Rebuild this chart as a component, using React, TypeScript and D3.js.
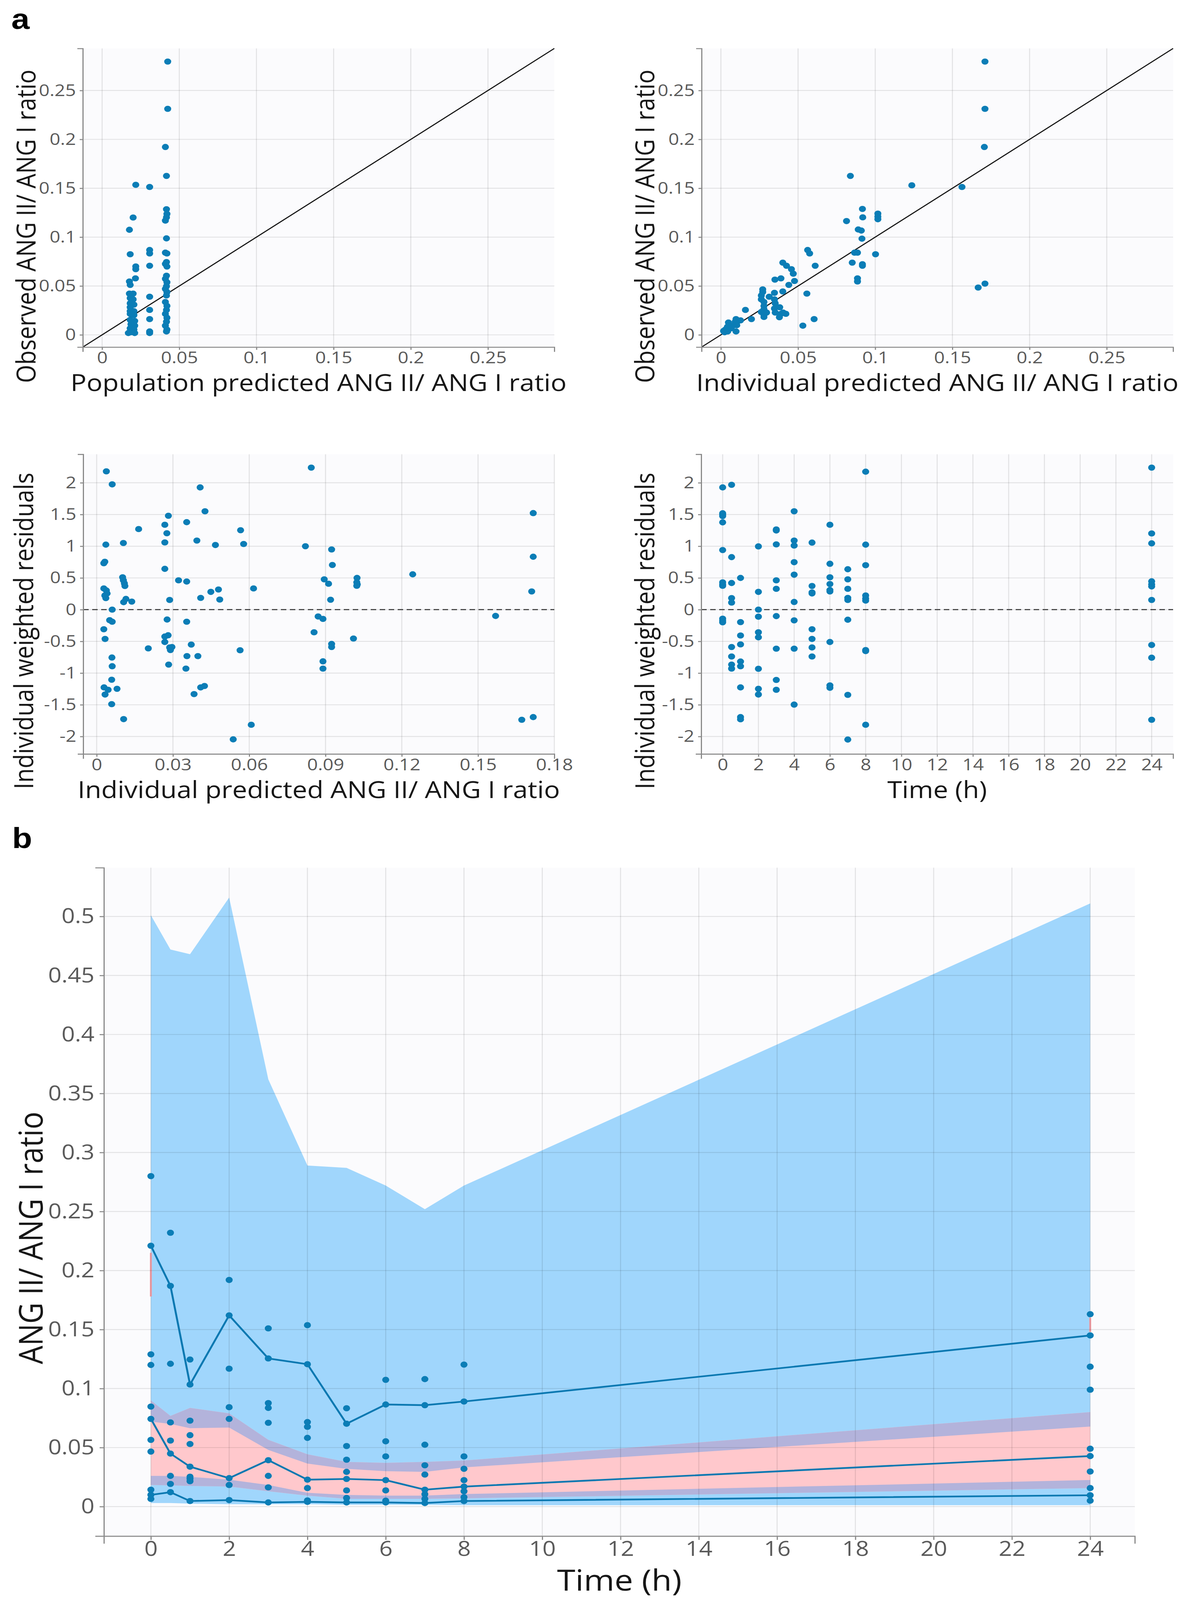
import { useEffect, useRef, useState } from 'react'
import * as d3 from 'd3'

const W = 3036
const H = 4656
const FONT = '"Open Sans", "Noto Sans", sans-serif'
const DOT = '#0b7db6'

// ---- panel a: observed vs population predicted
const predObs: [number, number][] = [
  [0.0218, 0.1535], [0.0201, 0.12], [0.0177, 0.1075], [0.0182, 0.0825], [0.0218, 0.07], [0.0218, 0.0672],
  [0.0216, 0.0578], [0.0177, 0.0546], [0.0182, 0.0511], [0.0177, 0.0422], [0.0201, 0.0422], [0.0182, 0.0376],
  [0.0201, 0.0363], [0.0182, 0.0323], [0.0206, 0.0309], [0.0182, 0.0282], [0.0182, 0.0242], [0.0206, 0.0242],
  [0.0182, 0.0215], [0.0206, 0.0202], [0.0182, 0.0153], [0.0211, 0.0142], [0.0187, 0.0108], [0.0211, 0.0094],
  [0.0182, 0.0067], [0.0206, 0.0054], [0.0187, 0.0027], [0.0211, 0.0019], [0.017, 0.0019],
  [0.0308, 0.1513], [0.0308, 0.0868], [0.0308, 0.0833], [0.0308, 0.0707], [0.0308, 0.039], [0.0308, 0.0255],
  [0.0308, 0.0161], [0.0308, 0.0035], [0.0308, 0.0019],
  [0.0425, 0.2796], [0.0425, 0.2312], [0.041, 0.1922], [0.0417, 0.1626], [0.0417, 0.1285], [0.042, 0.1237],
  [0.0417, 0.1202], [0.041, 0.1169], [0.0417, 0.0987], [0.041, 0.0841], [0.042, 0.0833], [0.0417, 0.0745],
  [0.041, 0.0726], [0.042, 0.0699], [0.0417, 0.0605], [0.041, 0.0573], [0.042, 0.0538], [0.0417, 0.0497],
  [0.041, 0.047], [0.042, 0.0438], [0.0417, 0.0403], [0.041, 0.0336], [0.042, 0.0296], [0.0417, 0.0255],
  [0.041, 0.0215], [0.042, 0.0175], [0.0417, 0.0134], [0.041, 0.0094], [0.042, 0.0054], [0.0417, 0.0035],
]

// ---- observed vs individual predicted
const ipredObs: [number, number][] = [
  [0.1711, 0.2796], [0.1711, 0.2312], [0.1707, 0.1922], [0.0839, 0.1626], [0.1237, 0.153], [0.1562, 0.1513],
  [0.0917, 0.1288], [0.0814, 0.1164], [0.0919, 0.1202], [0.1017, 0.124], [0.1017, 0.121], [0.1017, 0.1183],
  [0.089, 0.1078], [0.091, 0.1067], [0.0914, 0.0984], [0.0866, 0.0841], [0.0885, 0.0841], [0.1002, 0.0825],
  [0.0851, 0.0739], [0.0917, 0.0723], [0.0917, 0.0707], [0.0885, 0.0578], [0.0885, 0.0546], [0.0562, 0.0868],
  [0.0575, 0.0833], [0.0611, 0.0707], [0.0401, 0.0739], [0.0425, 0.0707], [0.0457, 0.0672], [0.035, 0.0565],
  [0.0389, 0.0578], [0.0469, 0.0626], [0.0477, 0.0551], [0.044, 0.0511], [0.0557, 0.0422], [0.0401, 0.0444],
  [0.0347, 0.043], [0.0313, 0.039], [0.0271, 0.0465], [0.0271, 0.0438], [0.0262, 0.0403], [0.0262, 0.0363],
  [0.0279, 0.0336], [0.0279, 0.0296], [0.0279, 0.0261], [0.0262, 0.0234], [0.0279, 0.0215], [0.0296, 0.0228],
  [0.0279, 0.0202], [0.0279, 0.0183], [0.0347, 0.0363], [0.0352, 0.0323], [0.0347, 0.0269], [0.0352, 0.0228],
  [0.0381, 0.0282], [0.0389, 0.0215], [0.0403, 0.0228], [0.0421, 0.0215], [0.0379, 0.018], [0.0604, 0.0161],
  [0.0531, 0.0094], [0.0198, 0.0161], [0.0159, 0.0255], [0.0127, 0.0148], [0.0098, 0.0161], [0.0093, 0.0134],
  [0.0103, 0.0099], [0.0078, 0.0094], [0.0066, 0.0067], [0.0049, 0.0126], [0.0042, 0.0081], [0.0029, 0.0054],
  [0.0024, 0.0027], [0.0017, 0.004], [0.0044, 0.0035], [0.0098, 0.0035], [0.1667, 0.0484], [0.1711, 0.0524],
]

// ---- IWRES vs individual predicted
const ipredIwres: [number, number][] = [
  [0.0038, 2.18], [0.0061, 1.975], [0.0165, 1.27], [0.0036, 1.025], [0.0105, 1.05], [0.0028, 0.732],
  [0.0032, 0.755], [0.0268, 1.338], [0.0282, 1.48], [0.0276, 1.204], [0.0268, 1.06], [0.0354, 1.379],
  [0.0407, 1.927], [0.0426, 1.551], [0.0394, 1.089], [0.0467, 1.019], [0.0566, 1.252], [0.0578, 1.035],
  [0.0268, 0.643], [0.0322, 0.462], [0.0354, 0.443], [0.0102, 0.51], [0.0105, 0.462], [0.0109, 0.414],
  [0.0111, 0.373], [0.0028, 0.334], [0.0038, 0.303], [0.0041, 0.255], [0.0032, 0.223], [0.0036, 0.182],
  [0.0115, 0.169], [0.0106, 0.118], [0.0138, 0.127], [0.0287, 0.153], [0.0409, 0.185], [0.0449, 0.28],
  [0.0479, 0.318], [0.0484, 0.159], [0.0617, 0.334], [0.0061, 0], [0.0051, -0.166], [0.0061, -0.191],
  [0.0028, -0.309], [0.0033, -0.462], [0.0277, -0.156], [0.0354, -0.191], [0.0268, -0.424], [0.0281, -0.404],
  [0.0268, -0.51], [0.0287, -0.596], [0.0296, -0.589], [0.029, -0.637], [0.0203, -0.611], [0.0372, -0.551],
  [0.0355, -0.732], [0.0398, -0.732], [0.0564, -0.64], [0.006, -0.755], [0.0061, -0.892], [0.0283, -0.866],
  [0.0351, -0.93], [0.0059, -1.105], [0.0029, -1.226], [0.0045, -1.264], [0.008, -1.248], [0.0033, -1.338],
  [0.0383, -1.331], [0.0409, -1.226], [0.0424, -1.204], [0.0059, -1.49], [0.0106, -1.726], [0.0537, -2.045],
  [0.0608, -1.815], [0.0844, 2.239], [0.0821, 1.0], [0.0924, 0.949], [0.0927, 0.704], [0.1024, 0.5],
  [0.1023, 0.43], [0.1025, 0.398], [0.1023, 0.376], [0.0895, 0.478], [0.0912, 0.408], [0.092, 0.156],
  [0.1243, 0.557], [0.0871, -0.108], [0.089, -0.146], [0.0855, -0.357], [0.101, -0.455], [0.0924, -0.541],
  [0.0924, -0.589], [0.089, -0.815], [0.089, -0.93], [0.1569, -0.099], [0.1717, 1.522], [0.1717, 0.834],
  [0.1711, 0.287], [0.1672, -1.736], [0.1717, -1.694],
]

// ---- IWRES vs time (h)
const sampleTimes = [0, 0.5, 1, 2, 3, 4, 5, 6, 7, 8, 24]
const iwresByTime: number[][] = [
  [1.927, 1.519, 1.497, 1.475, 1.376, 0.939, 0.43, 0.398, 0.376, -0.143, -0.175, -0.2],
  [1.968, 0.828, 0.42, 0.182, 0.111, -0.589, -0.739, -0.866, -0.93],
  [0.5, -0.197, -0.408, -0.548, -0.818, -0.892, -1.226, -1.694, -1.729],
  [0.997, 0.28, 0, -0.111, -0.357, -0.436, -0.933, -1.248, -1.338],
  [1.264, 1.248, 1.029, 0.462, 0.328, -0.102, -0.615, -1.108, -1.264],
  [1.551, 1.089, 1.01, 0.748, 0.551, 0.121, -0.169, -0.615, -1.497],
  [1.057, 0.373, 0.271, 0.255, -0.309, -0.462, -0.596, -0.739],
  [1.338, 0.723, 0.51, 0.404, 0.309, 0.287, -0.51, -1.194, -1.232],
  [0.637, 0.478, 0.328, 0.185, 0.153, -0.159, -1.344, -2.048],
  [2.175, 1.025, 0.701, 0.223, 0.175, 0.143, -0.637, -0.653, -1.815],
  [2.239, 1.201, 1.045, 0.446, 0.398, 0.366, 0.153, -0.557, -0.758, -1.736],
]

// ---- panel b: VPC (prediction intervals + empirical percentiles)
const pi90Hi = [0.501, 0.472, 0.468, 0.516, 0.362, 0.289, 0.287, 0.272, 0.252, 0.272, 0.511]
const pi90Lo = [0.072, 0.07, 0.0664, 0.067, 0.048, 0.0364, 0.032, 0.03, 0.0294, 0.0332, 0.0678]
const pi50Hi = [0.09, 0.0768, 0.0836, 0.079, 0.0565, 0.0443, 0.0378, 0.037, 0.0378, 0.039, 0.08]
const pi50Lo = [0.0183, 0.018, 0.0175, 0.017, 0.013, 0.0093, 0.0066, 0.0066, 0.0066, 0.007, 0.0157]
const pi10Hi = [0.026, 0.026, 0.0252, 0.0228, 0.0183, 0.0117, 0.0099, 0.0093, 0.0093, 0.0106, 0.0225]
const pi10Lo = [0.003, 0.003, 0.0025, 0.002, 0.002, 0.002, 0.0015, 0.0015, 0.0015, 0.0012, 0.0012]
const emp90 = [0.221, 0.187, 0.1034, 0.162, 0.1255, 0.1206, 0.0702, 0.0865, 0.0859, 0.089, 0.145]
const emp50 = [0.0743, 0.0449, 0.0338, 0.0241, 0.0393, 0.0228, 0.0234, 0.0224, 0.0143, 0.0169, 0.0428]
const emp10 = [0.0099, 0.0122, 0.0047, 0.0055, 0.0035, 0.004, 0.0035, 0.0035, 0.003, 0.0047, 0.0096]
const vpcObs: number[][] = [
  [0.28, 0.129, 0.12, 0.0847, 0.0565, 0.0466, 0.0143, 0.0065],
  [0.232, 0.121, 0.0713, 0.0559, 0.026, 0.0192],
  [0.1246, 0.0728, 0.0605, 0.053, 0.0253, 0.0236, 0.0215],
  [0.192, 0.1168, 0.0842, 0.0743, 0.0183],
  [0.151, 0.0877, 0.0836, 0.071, 0.026, 0.0163],
  [0.1537, 0.0716, 0.0676, 0.0582, 0.0157, 0.0052],
  [0.0833, 0.0513, 0.0397, 0.0294, 0.0137, 0.0073],
  [0.1074, 0.0553, 0.0425, 0.0137, 0.005],
  [0.108, 0.0524, 0.035, 0.0271, 0.0105, 0.0065],
  [0.1203, 0.0425, 0.032, 0.0224, 0.013, 0.0079],
  [0.163, 0.1185, 0.099, 0.049, 0.0297, 0.0157, 0.005],
]
// thin red outlier marks at the first and last sampling time
const outlierTimes = [0, 24]
const outlierLo = [0.178, 0.148]
const outlierHi = [0.215, 0.16]

const ratioTicks = [0, 0.05, 0.1, 0.15, 0.2, 0.25]
const iwresTicks = [-2, -1.5, -1, -0.5, 0, 0.5, 1, 1.5, 2]
const ipredTicks = [0, 0.03, 0.06, 0.09, 0.12, 0.15, 0.18]
const timeTicks = d3.range(0, 25, 2)
const vpcTicks = d3.range(0, 0.501, 0.05)

const fmt = (d: d3.NumberValue) => String(+(+d).toFixed(3))

type Box = { left: number; right: number; top: number; bottom: number }
interface PanelOpts {
  box: Box
  xDomain: [number, number]
  yDomain: [number, number]
  xTicks: number[]
  yTicks: number[]
  xTitle: string
  yTitle: string
  tickFont: number
  titleFont: number
  inner: number
  outer: number
  xPad: number
  xTitleY: number
  yTitleX: number
  yTitleShift: number
}

function makePanel(svg: d3.Selection<SVGSVGElement, unknown, null, undefined>, o: PanelOpts) {
  const { box } = o
  const x = d3.scaleLinear().domain(o.xDomain).range([box.left, box.right])
  const y = d3.scaleLinear().domain(o.yDomain).range([box.bottom, box.top])
  const root = svg.append('g')

  root.append('rect')
    .attr('x', box.left).attr('y', box.top)
    .attr('width', box.right - box.left).attr('height', box.bottom - box.top)
    .attr('fill', '#fbfbfd')

  const band = root.append('g')
  const grid = root.append('g').attr('stroke', 'rgba(0,0,0,0.1)').attr('stroke-width', 2.5)
  o.xTicks.forEach((t) => {
    grid.append('line').attr('x1', x(t)).attr('x2', x(t)).attr('y1', box.top).attr('y2', box.bottom)
  })
  o.yTicks.forEach((t) => {
    grid.append('line').attr('x1', box.left).attr('x2', box.right).attr('y1', y(t)).attr('y2', y(t))
  })
  const marks = root.append('g')

  const styleAxis = (g: d3.Selection<SVGGElement, unknown, null, undefined>) => {
    g.attr('font-size', o.tickFont).attr('font-family', FONT)
    g.select('.domain').attr('stroke', '#8a8a8a').attr('stroke-width', 3)
    g.selectAll('.tick line').attr('stroke', '#8a8a8a').attr('stroke-width', 3)
    g.selectAll('.tick text').attr('fill', '#5a5a5a')
  }

  root.append('g')
    .attr('transform', `translate(0,${box.bottom})`)
    .call(d3.axisBottom(x).tickValues(o.xTicks).tickFormat(fmt).tickSizeInner(o.inner).tickSizeOuter(o.outer).tickPadding(o.xPad))
    .call(styleAxis)

  root.append('g')
    .attr('transform', `translate(${box.left},0)`)
    .call(d3.axisLeft(y).tickValues(o.yTicks).tickFormat(fmt).tickSizeInner(o.inner).tickSizeOuter(o.outer).tickPadding(o.inner * 1.2))
    .call(styleAxis)

  root.append('text')
    .attr('x', (box.left + box.right) / 2)
    .attr('y', box.bottom + o.xTitleY)
    .attr('text-anchor', 'middle')
    .attr('font-family', FONT)
    .attr('font-size', o.titleFont)
    .attr('fill', '#161616')
    .text(o.xTitle)

  root.append('text')
    .attr('transform', `translate(${o.yTitleX},${(box.top + box.bottom) / 2 + o.yTitleShift}) rotate(-90)`)
    .attr('text-anchor', 'middle')
    .attr('font-family', FONT)
    .attr('font-size', o.titleFont)
    .attr('fill', '#161616')
    .text(o.yTitle)

  return { x, y, band, marks }
}

export default function App() {
  const ref = useRef<SVGSVGElement>(null)
  // fit the figure into the visible viewport height (falls back to the full size)
  const [viewH] = useState(() => {
    const h = typeof window !== 'undefined' ? window.innerHeight : H
    return h > 1000 && h < H ? h : H
  })

  useEffect(() => {
    if (!ref.current) return
    const svg = d3.select(ref.current)
    svg.selectAll('*').remove()

    const small = { tickFont: 48, titleFont: 68, inner: 8, outer: 14, xPad: 5 }
    const ratioDom: [number, number] = [-0.0125, 0.293]

    // a1
    const p1 = makePanel(svg, {
      ...small,
      box: { left: 212, right: 1419, top: 141, bottom: 1010 },
      xDomain: ratioDom, yDomain: ratioDom, xTicks: ratioTicks, yTicks: ratioTicks,
      xTitle: 'Population predicted ANG II/ ANG I ratio', yTitle: 'Observed ANG II/ ANG I ratio',
      xTitleY: 128, yTitleX: 91, yTitleShift: 83,
    })
    // a2
    const p2 = makePanel(svg, {
      ...small,
      box: { left: 1796, right: 3003, top: 141, bottom: 1010 },
      xDomain: ratioDom, yDomain: ratioDom, xTicks: ratioTicks, yTicks: ratioTicks,
      xTitle: 'Individual predicted ANG II/ ANG I ratio', yTitle: 'Observed ANG II/ ANG I ratio',
      xTitleY: 128, yTitleX: 1675, yTitleShift: 83,
    })
    ;[p1, p2].forEach((p, i) => {
      p.marks.append('line')
        .attr('x1', p.x(ratioDom[0])).attr('y1', p.y(ratioDom[0]))
        .attr('x2', p.x(ratioDom[1])).attr('y2', p.y(ratioDom[1]))
        .attr('stroke', '#111').attr('stroke-width', 3)
      p.marks.selectAll('circle.pt')
        .data(i === 0 ? predObs : ipredObs)
        .join('circle')
        .attr('cx', (d) => p.x(d[0])).attr('cy', (d) => p.y(d[1]))
        .attr('r', 9).attr('fill', DOT)
    })

    // a3
    const iwDom: [number, number] = [-2.275, 2.449]
    const p3 = makePanel(svg, {
      ...small,
      box: { left: 213, right: 1419, top: 1322, bottom: 2194 },
      xDomain: [-0.0053, 0.18], yDomain: iwDom, xTicks: ipredTicks, yTicks: iwresTicks,
      xTitle: 'Individual predicted ANG II/ ANG I ratio', yTitle: 'Individual weighted residuals',
      xTitleY: 128, yTitleX: 85, yTitleShift: 78,
    })
    // a4
    const p4 = makePanel(svg, {
      ...small,
      box: { left: 1795, right: 3003, top: 1322, bottom: 2194 },
      xDomain: [-1.2, 25.2], yDomain: iwDom, xTicks: timeTicks, yTicks: iwresTicks,
      xTitle: 'Time (h)', yTitle: 'Individual weighted residuals',
      xTitleY: 128, yTitleX: 1675, yTitleShift: 78,
    })
    ;[p3, p4].forEach((p) => {
      const [a, b] = p.x.domain()
      p.marks.append('line')
        .attr('x1', p.x(a)).attr('x2', p.x(b)).attr('y1', p.y(0)).attr('y2', p.y(0))
        .attr('stroke', '#404040').attr('stroke-width', 3).attr('stroke-dasharray', '14 9')
    })
    p3.marks.selectAll('circle')
      .data(ipredIwres)
      .join('circle')
      .attr('cx', (d) => p3.x(d[0])).attr('cy', (d) => p3.y(d[1]))
      .attr('r', 9).attr('fill', DOT)
    const timePts = sampleTimes.flatMap((t, i) => iwresByTime[i].map((v) => [t, v] as [number, number]))
    p4.marks.selectAll('circle')
      .data(timePts)
      .join('circle')
      .attr('cx', (d) => p4.x(d[0])).attr('cy', (d) => p4.y(d[1]))
      .attr('r', 9).attr('fill', DOT)

    // b: VPC
    const pb = makePanel(svg, {
      tickFont: 60, titleFont: 85, inner: 11, outer: 22, xPad: 4,
      box: { left: 266, right: 2905, top: 2525, bottom: 4470 },
      xDomain: [-1.2, 25.14], yDomain: [-0.025, 0.5413], xTicks: timeTicks, yTicks: vpcTicks,
      xTitle: 'Time (h)', yTitle: 'ANG II/ ANG I ratio',
      xTitleY: 159, yTitleX: 109, yTitleShift: 105,
    })
    const idx = d3.range(sampleTimes.length)
    const bandArea = (lo: (i: number) => number, hi: (i: number) => number) =>
      d3.area<number>()
        .x((i) => pb.x(sampleTimes[i]))
        .y0((i) => pb.y(lo(i)))
        .y1((i) => pb.y(Math.max(lo(i), hi(i))))
    const blue = '#a0d6fc'
    const pink = '#ffc8cc'
    const purple = '#b3b3db'
    pb.band.append('path').datum(idx).attr('fill', blue).attr('d', bandArea((i) => pi90Lo[i], (i) => pi90Hi[i]))
    pb.band.append('path').datum(idx).attr('fill', blue).attr('d', bandArea((i) => pi10Lo[i], (i) => pi10Hi[i]))
    pb.band.append('path').datum(idx).attr('fill', pink).attr('d', bandArea((i) => pi50Lo[i], (i) => pi50Hi[i]))
    pb.band.append('path').datum(idx).attr('fill', purple)
      .attr('d', bandArea((i) => Math.max(pi50Lo[i], pi90Lo[i]), (i) => Math.min(pi50Hi[i], pi90Hi[i])))
    pb.band.append('path').datum(idx).attr('fill', purple)
      .attr('d', bandArea((i) => Math.max(pi50Lo[i], pi10Lo[i]), (i) => Math.min(pi50Hi[i], pi10Hi[i])))
    pb.band.selectAll('line.out')
      .data(outlierTimes)
      .join('line')
      .attr('class', 'out')
      .attr('x1', (t) => pb.x(t)).attr('x2', (t) => pb.x(t))
      .attr('y1', (_, i) => pb.y(outlierLo[i])).attr('y2', (_, i) => pb.y(outlierHi[i]))
      .attr('stroke', '#f4a0a8').attr('stroke-width', 5)

    const obsPts = sampleTimes.flatMap((t, i) => vpcObs[i].map((v) => [t, v] as [number, number]))
    pb.marks.selectAll('circle.obs')
      .data(obsPts)
      .join('circle')
      .attr('class', 'obs')
      .attr('cx', (d) => pb.x(d[0])).attr('cy', (d) => pb.y(d[1]))
      .attr('r', 9).attr('fill', DOT)

    const line = d3.line<number>().x((_, i) => pb.x(sampleTimes[i])).y((v) => pb.y(v))
    ;[emp90, emp50, emp10].forEach((series) => {
      const g = pb.marks.append('g')
      g.append('path').datum(series)
        .attr('fill', 'none').attr('stroke', '#0a78b1').attr('stroke-width', 5).attr('d', line)
      g.selectAll('circle')
        .data(series)
        .join('circle')
        .attr('cx', (_, i) => pb.x(sampleTimes[i])).attr('cy', (v) => pb.y(v))
        .attr('r', 9).attr('fill', DOT)
    })

    // panel letters
    svg.append('text').attr('x', 29).attr('y', 84)
      .attr('font-family', '"Liberation Sans", Arial, sans-serif').attr('font-weight', 'bold')
      .attr('font-size', 84).text('a')
    svg.append('text').attr('x', 31).attr('y', 2468)
      .attr('font-family', '"Liberation Sans", Arial, sans-serif').attr('font-weight', 'bold')
      .attr('font-size', 84).text('b')
  }, [])

  return (
    <div style={{ position: 'absolute', left: 0, top: 0, background: '#fff' }}>
      <svg
        ref={ref}
        width={W}
        height={viewH}
        viewBox={`0 0 ${W} ${H}`}
        preserveAspectRatio="none"
        style={{ display: 'block', background: '#fff' }}
      />
    </div>
  )
}
